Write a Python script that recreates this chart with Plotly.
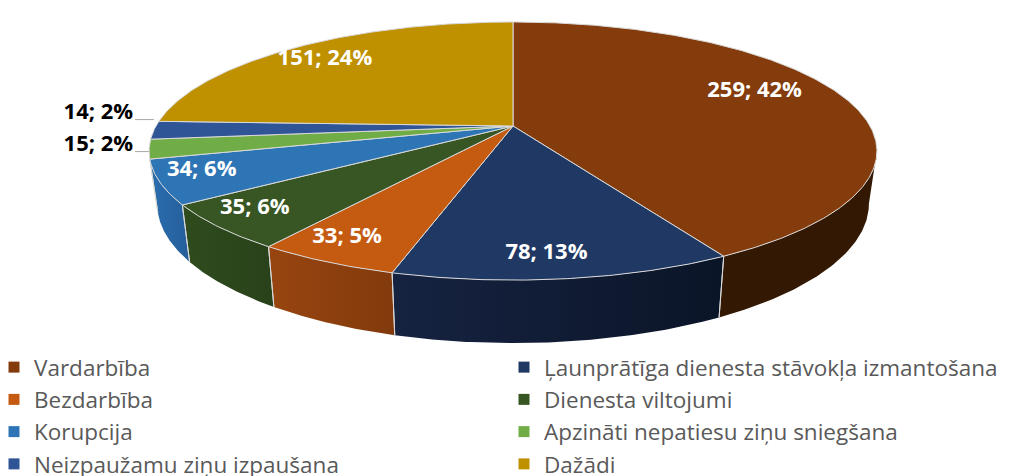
import numpy as np
import plotly.graph_objects as go

# ---------------- data ----------------
categories = [
    "Vardarbība",
    "Ļaunprātīga dienesta stāvokļa izmantošana",
    "Bezdarbība",
    "Dienesta viltojumi",
    "Korupcija",
    "Apzināti nepatiesu ziņu sniegšana",
    "Neizpaužamu ziņu izpaušana",
    "Dažādi",
]
counts = [259, 78, 33, 35, 34, 15, 14, 151]
percent_labels = [42, 13, 5, 6, 6, 2, 2, 24]

# ---------------- styles ----------------
top_colors = ["#843C0C", "#1F3864", "#C55A11", "#375623", "#2E75B6", "#70AD47", "#2F5597", "#BF9000"]
side_left = ["#331903", "#162341", "#984510", "#2F4C1E", "#2B6DB0", "#5A8F38", "#25467D", "#9A7400"]
side_right = ["#331903", "#0B1528", "#823A0C", "#29411A", "#255F9A", "#5A8F38", "#25467D", "#9A7400"]
label_radius = [0.74, 0.87, 0.85, 0.85, 0.85, 1.0, 1.0, 0.76]
label_shift = [(-5, -12), (-10, -1), (-12, 0), (-14, -1), (-15, -3), (0, 0), (0, 0), (-18, -5)]
EDGE = "#D9D9D9"

W, HT = 1015, 476
CX, CY = 505, 118        # apex of the pie on screen
A, B = 357, 124.2        # projected radii
K = 0.194                # perspective strength
H = 50.8                 # thickness
S = 0.978                # shrink of the bottom face

def proj(phi_deg, f=1.0):
    phi = np.radians(phi_deg)
    u = np.sin(phi) * f
    v = -np.cos(phi) * f
    d = 1 - K * v
    return CX + A * u / d, CY + B * v / d, d

total = sum(counts)
angles = np.cumsum([0] + [c / total * 360 for c in counts])

fig = go.Figure()

# visible rim range
phi_r = 90 + np.degrees(np.arcsin(K))
phi_l = 270 - np.degrees(np.arcsin(K))

# side walls
sep_x, sep_y = [], []
for i in range(len(counts)):
    a0, a1 = max(angles[i], phi_r), min(angles[i + 1], phi_l)
    if a1 <= a0:
        continue
    ph = np.linspace(a0, a1, 80)
    xt, yt, d = proj(ph)
    xb = CX + (xt - CX) * S
    yb = yt + H / d
    xs = np.concatenate([xt, xb[::-1], xt[:1]])
    ys = np.concatenate([yt, yb[::-1], yt[:1]])
    fig.add_trace(go.Scatter(x=xs, y=ys, mode="lines", fill="toself",
                             fillgradient=dict(type="horizontal",
                                               colorscale=[[0, side_left[i]], [1, side_right[i]]]),
                             line=dict(width=0), hoverinfo="skip", showlegend=False))
    for j in (0, -1):
        if phi_r < ph[j] < phi_l:
            sep_x += [xt[j], xb[j], None]
            sep_y += [yt[j], yb[j], None]

fig.add_trace(go.Scatter(x=sep_x, y=sep_y, mode="lines", line=dict(color=EDGE, width=1),
                         hoverinfo="skip", showlegend=False))

# top faces
for i in range(len(counts)):
    ph = np.linspace(angles[i], angles[i + 1], max(4, int((angles[i + 1] - angles[i]) * 2)))
    xt, yt, _ = proj(ph)
    xs = np.concatenate([[CX], xt, [CX]])
    ys = np.concatenate([[CY], yt, [CY]])
    fig.add_trace(go.Scatter(x=xs, y=ys, mode="lines", fill="toself",
                             fillcolor=top_colors[i], line=dict(color=EDGE, width=1),
                             hoverinfo="skip", showlegend=False))

# labels
in_x, in_y, in_t = [], [], []
out = []
for i in range(len(counts)):
    mid = (angles[i] + angles[i + 1]) / 2
    txt = f"{counts[i]}; {percent_labels[i]}%"
    if percent_labels[i] >= 3:
        x, y, _ = proj(mid, label_radius[i])
        in_x.append(x + label_shift[i][0]); in_y.append(y + label_shift[i][1]); in_t.append(txt)
    else:
        ex, ey, _ = proj(mid, 1.0)
        out.append([ex, ey, txt])

# spread outside labels vertically
out.sort(key=lambda o: o[1])
gap = 32
if out:
    mean_y = np.mean([o[1] for o in out])
    n = len(out)
    for j, o in enumerate(out):
        o.append(mean_y + (j - (n - 1) / 2) * gap - 10)

fig.add_trace(go.Scatter(x=in_x, y=in_y, text=in_t, mode="text",
                         textfont=dict(family="Open Sans", size=22, color="white", weight="bold"),
                         hoverinfo="skip", showlegend=False))
ox = [min(o[0] for o in out) - 16] * len(out)
fig.add_trace(go.Scatter(x=ox, y=[o[3] for o in out], text=[o[2] for o in out], mode="text",
                         textposition="middle left",
                         textfont=dict(family="Open Sans", size=22, color="black", weight="bold"),
                         hoverinfo="skip", showlegend=False))
lx, ly = [], []
for o, x0 in zip(out, ox):
    lx += [x0 + 2, o[0], None]
    ly += [o[3] + 6, o[3] + 6, None]
fig.add_trace(go.Scatter(x=lx, y=ly, mode="lines", line=dict(color="#A6A6A6", width=1),
                         hoverinfo="skip", showlegend=False))

# legend entries: two legends (columns), filled row by row
for i, (cat, col) in enumerate(zip(categories, top_colors)):
    fig.add_trace(go.Scatter(x=[None], y=[None], mode="markers", name=cat,
                             legend="legend" if i % 2 == 0 else "legend2",
                             legendgroup=f"g{i}",
                             marker=dict(symbol="square", size=11, color=col)))

leg_common = dict(orientation="v", y=1 - 338 / HT, xanchor="left", yanchor="top",
                  traceorder="normal", tracegroupgap=1,
                  font=dict(family="Open Sans", size=22.5, color="#595959"),
                  bgcolor="rgba(0,0,0,0)")

fig.update_layout(
    width=W, height=HT,
    margin=dict(l=0, r=0, t=0, b=0, autoexpand=False),
    paper_bgcolor="white", plot_bgcolor="white",
    xaxis=dict(range=[0, W], visible=False, fixedrange=True),
    yaxis=dict(range=[HT, 0], visible=False, fixedrange=True),
    legend=dict(x=-14 / W, **leg_common),
    legend2=dict(x=496 / W, **leg_common),
)

fig.write_html("out.html")
